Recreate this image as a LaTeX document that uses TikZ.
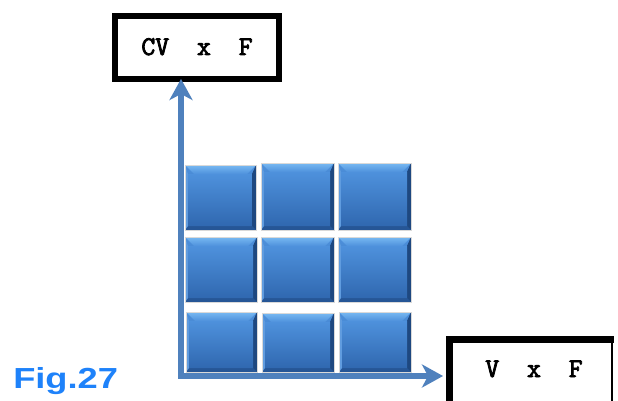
\documentclass[tikz,border=0pt]{standalone}
\usepackage{fontspec}
\newfontfamily\figfont{Liberation Sans}
\newfontfamily\cmono{Latin Modern Mono}[FakeBold=3]
\usetikzlibrary{arrows.meta,calc}
\definecolor{axisblue}{RGB}{79,129,189}
\definecolor{figblue}{RGB}{30,130,250}
\definecolor{sqlight}{RGB}{120,185,242}
\definecolor{sqtop}{RGB}{78,145,220}
\definecolor{sqmid}{RGB}{58,122,200}
\definecolor{sqlow}{RGB}{48,104,176}
\definecolor{sqdark}{RGB}{30,72,128}
\definecolor{sqbot}{RGB}{38,86,150}
\tikzset{
  labelbox/.style={draw=black, line width=6pt, inner sep=0pt, outer sep=0pt},
  monotext/.style={font=\cmono\fontsize{27}{27}\selectfont, text=black, inner sep=0pt},
  axis/.style={draw=axisblue, line width=5.5pt, line join=miter},
  pics/bevsq/.style 2 args={code={
    \shade[top color=sqtop, bottom color=sqlow] (0,0) rectangle (#1,#2);
    \fill[sqbot] (0,#2) -- (3,#2-4) -- (#1-4,#2-4) -- (#1,#2) -- cycle;
    \fill[sqdark] (#1,0) -- (#1-4,9) -- (#1-4,#2-4) -- (#1,#2) -- cycle;
    \shade[top color=sqlight, bottom color=sqtop] (0,0) -- (#1,0) -- (#1-9,9) -- (9,9) -- cycle;
    \fill[sqtop!90!white] (0,0) -- (3,9) -- (3,#2-4) -- (0,#2) -- cycle;
    \shade[top color=sqtop, bottom color=sqlow] (3,9) -- (9,9) -- (#1-9,9) -- (#1-4,9) -- (#1-4,#2-4) -- (3,#2-4) -- cycle;
    \draw[black!15, line width=0.6pt] (0,0) rectangle (#1,#2);
  }}
}
\begin{document}
\begin{tikzpicture}[x=1pt,y=-1pt]
\useasboundingbox[fill=white] (0,0) rectangle (618,401);
% squares
\pic at (185,165) {bevsq={71}{65}};
\pic at (261,163) {bevsq={73}{67}};
\pic at (338,163) {bevsq={73}{67}};
\pic at (185,237) {bevsq={72}{65}};
\pic at (261,237) {bevsq={73}{65}};
\pic at (338,237) {bevsq={73}{65}};
\pic at (186,312) {bevsq={71}{60}};
\pic at (262,313) {bevsq={72}{59}};
\pic at (339,312) {bevsq={72}{60}};
% label boxes
\node[labelbox, minimum width=164pt, minimum height=63pt, anchor=north west] (cvfbox) at (115,16) {};
\node[monotext, anchor=base] (cvf) at (197,55) {CV~~x~~F};
\node[inner sep=0pt, outer sep=0pt, minimum width=163pt, minimum height=100pt, anchor=north west] (vfbox) at (449,339) {};
\draw[line width=7pt] (vfbox.south west) -- (vfbox.north west) -- ([xshift=1.5pt]vfbox.north east);
\draw[line width=2.5pt] (vfbox.north east) -- (vfbox.south east);
\node[monotext, anchor=base] (vf) at (534,377) {V~~x~~F};
% axes
\coordinate (o) at (181,376);
\draw[axis, {Stealth[length=21pt,width=23pt,inset=6pt]}-{Stealth[length=21pt,width=23pt,inset=6pt]}]
  (o |- cvfbox.south) -- (o) -- ([xshift=-6pt]o -| vfbox.west);
% figure label
\node[font=\figfont\bfseries\fontsize{29}{29}\selectfont, text=figblue, inner sep=0pt, anchor=base west, xscale=1.25] (fig) at (13,388) {Fig.27};
\end{tikzpicture}
\end{document}
